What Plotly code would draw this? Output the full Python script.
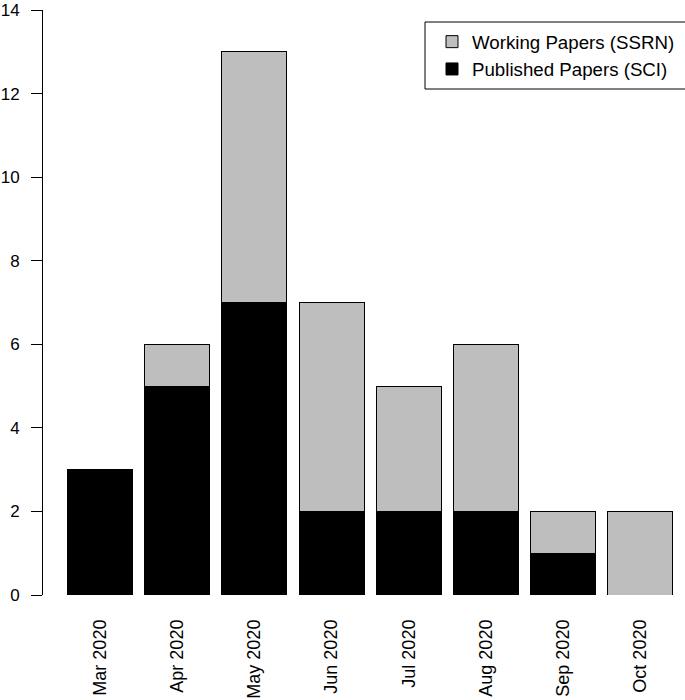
import plotly.graph_objects as go

months = ["Mar 2020", "Apr 2020", "May 2020", "Jun 2020",
          "Jul 2020", "Aug 2020", "Sep 2020", "Oct 2020"]
published = [3, 5, 7, 2, 2, 2, 1, 0]
working = [0, 1, 6, 5, 3, 4, 1, 2]
y_ticks = [0, 2, 4, 6, 8, 10, 12, 14]

FONT = "Liberation Sans, Arial, Helvetica, sans-serif"

fig = go.Figure()
fig.add_trace(go.Bar(
    x=months, y=published, name="Published Papers (SCI)",
    marker=dict(color="#000000", line=dict(color="#000000", width=1)),
    width=0.84,
))
fig.add_trace(go.Bar(
    x=months, y=working, name="Working Papers (SSRN)",
    marker=dict(color="#bebebe", line=dict(color="#000000", width=1)),
    width=0.84,
))

L = 43
W = 685
H = 700
TOP = 10
plot_w = W - L
plot_h = 585
pitch = 77.2
c0 = 100  # centre of first bar in pixels


def py(y_page):
    return (595 - y_page) / 585


def px(x_page):
    return (x_page - L) / plot_w


fig.update_layout(
    width=W, height=H,
    margin=dict(l=L, r=0, t=TOP, b=H - TOP - plot_h),
    barmode="stack",
    plot_bgcolor="white", paper_bgcolor="white",
    font=dict(family=FONT, size=17, color="black"),
    showlegend=True,
    legend=dict(
        x=px(432), y=py(23),
        xanchor="left", yanchor="top",
        bgcolor="rgba(0,0,0,0)", borderwidth=0,
        traceorder="reversed",
        font=dict(size=18.7, family=FONT),
        tracegroupgap=0,
    ),
    shapes=[dict(
        type="rect", xref="paper", yref="paper",
        x0=px(425), x1=1.03,
        y0=py(89), y1=py(22),
        line=dict(color="black", width=1), fillcolor="rgba(0,0,0,0)",
        layer="below",
    )],
)
fig.update_xaxes(
    range=[-(c0 - L) / pitch, (W - c0) / pitch],
    showline=False, showgrid=False, zeroline=False,
    ticks="", tickangle=-90,
    tickfont=dict(size=18, family=FONT),
    ticklabelstandoff=20,
    automargin=False,
)
fig.update_yaxes(
    range=[0, 14], tickvals=y_ticks,
    showline=True, linecolor="black", linewidth=1,
    ticks="outside", ticklen=11, tickwidth=1, tickcolor="black",
    showgrid=False, zeroline=False,
    tickfont=dict(size=17, family=FONT),
    ticklabelstandoff=8,
    automargin=False,
)

fig.write_html(
    "out.html",
    config={"displayModeBar": False},
    post_script="document.body.style.margin='0';document.body.style.overflow='hidden';",
)
